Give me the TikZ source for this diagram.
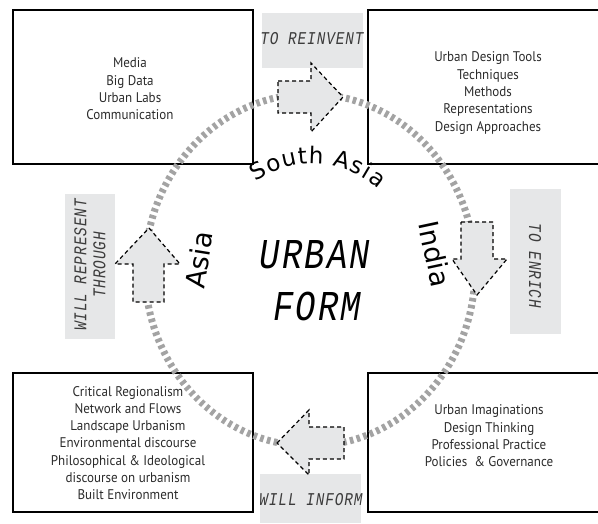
\documentclass[tikz,border=0pt]{standalone}
\usepackage{fontspec}
\usetikzlibrary{decorations.text}
\newfontfamily\boxfont[FakeStretch=0.93]{PT Sans}
\newfontfamily\labfont{DejaVu Sans}
\newfontfamily\monof[FakeStretch=0.8, LetterSpace=5]{Liberation Mono}
\definecolor{lightg}{HTML}{E6E7E8}
\definecolor{ringg}{HTML}{A3A3A3}
\definecolor{inkg}{HTML}{2B2B2B}
\definecolor{tagink}{HTML}{3C3C3C}
\begin{document}
\begin{tikzpicture}[x=1pt,y=-1pt,
  framebox/.style={draw=black, line width=1.1pt},
  tagbox/.style={fill=lightg, draw=none},
  bigarrow/.style={fill=lightg, draw=black, line width=1.2pt, dash pattern=on 4pt off 3pt},
  boxtext/.style={align=center, text=inkg, font=\boxfont\fontsize{14}{17.3}\selectfont, inner sep=0pt},
  tagtext/.style={align=center, text=tagink, font=\monof\itshape\fontsize{18}{19}\selectfont, inner sep=0pt},
  ringlabel/.style={font=\labfont\fontsize{27}{27}\selectfont, inner sep=0pt},
  bigword/.style={font=\monof\itshape\fontsize{42.5}{42.5}\selectfont, inner sep=0pt, anchor=base},
]
\useasboundingbox (0,0) rectangle (598,523);

% frames
\draw[framebox] (13,10) rectangle (253,164);
\draw[framebox] (368,10) rectangle (600,164);
\draw[framebox] (13,373) rectangle (253,512);
\draw[framebox] (368,373) rectangle (600,512);

% grey tags
\fill[tagbox] (262,13) rectangle (363,68);
\fill[tagbox] (65,194) rectangle (115,339);
\fill[tagbox] (510,189) rectangle (561,334);
\fill[tagbox] (260,474) rectangle (361,523);

% box texts
\node[boxtext] (tl) at (130,89) {Media\\Big Data\\Urban Labs\\Communication};
\node[boxtext] (tr) at (488,93) {Urban Design Tools\\Techniques\\Methods\\Representations\\Design Approaches};
\node[boxtext] (bl) at (128,443) {Critical Regionalism\\Network and Flows\\Landscape Urbanism\\Environmental discourse\\Philosophical \& Ideological\\discourse on urbanism\\Built Environment};
\node[boxtext] (br) at (489,436) {Urban Imaginations\\Design Thinking\\Professional Practice\\Policies \ \& Governance};

% ring
\draw[ringg, line width=7pt, dash pattern=on 3.6pt off 3.4pt] (310,270) ellipse [x radius=165, y radius=176];

% arrows
\draw[bigarrow] (278,81) -- (311,81) -- (311,63) -- (343,97) -- (311,132) -- (311,113) -- (278,113) -- cycle;
\draw[bigarrow] (461,222) -- (493,222) -- (493,259) -- (507,259) -- (477,295) -- (452,259) -- (461,259) -- cycle;
\draw[bigarrow] (149,228) -- (180,264) -- (164,264) -- (164,302) -- (133,302) -- (133,264) -- (115,264) -- cycle;
\draw[bigarrow] (277,443) -- (309,410) -- (309,427) -- (344,427) -- (344,459) -- (309,459) -- (309,475) -- cycle;

% tag texts
\node[tagtext] (reinvent) at (312,39) {TO REINVENT};
\node[tagtext, rotate=90] (represent) at (90,265) {WILL REPRESENT\\THROUGH};
\node[tagtext, rotate=-90] (enrich) at (535,266) {TO ENRICH};
\node[tagtext] (inform) at (311,500) {WILL INFORM};

% ring labels
\coordinate (rc) at (312,265);
\path[decorate, decoration={text along path, text align=fit to path,
  text={|\labfont\fontsize{23}{23}\selectfont|South Asia}}]
  (rc) ++(236:101) arc[start angle=236, end angle=311, radius=101];
\node[ringlabel, rotate=81] (asia) at (199,260) {Asia};
\node[ringlabel, rotate=-78] (india) at (435,254) {India};

% centre
\node[bigword] (urban) at (315,268) {URBAN};
\node[bigword] (form) at (317,320) {FORM};
\end{tikzpicture}
\end{document}
